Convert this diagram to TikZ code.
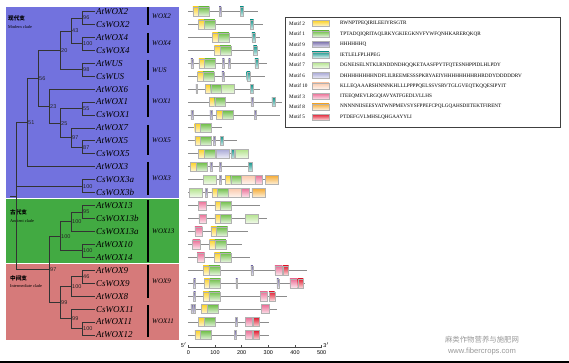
\documentclass[tikz,border=0pt]{standalone}
\usepackage{fontspec}
\setmainfont{Liberation Serif}
\setsansfont{Liberation Sans}
\newfontfamily\cjk{Noto Sans CJK SC}
\usepackage{tikz}
\usepackage{xcolor}

\definecolor{modbg}{RGB}{114,114,222}
\definecolor{ancbg}{RGB}{66,170,66}
\definecolor{intbg}{RGB}{214,122,122}
\definecolor{mc2}{RGB}{252,210,40}
\definecolor{mc1}{RGB}{110,190,70}
\definecolor{mc9}{RGB}{118,108,170}
\definecolor{mc4}{RGB}{20,150,140}
\definecolor{mc7}{RGB}{178,226,140}
\definecolor{mc6}{RGB}{170,170,215}
\definecolor{mc10}{RGB}{250,200,170}
\definecolor{mc3}{RGB}{235,110,150}
\definecolor{mc8}{RGB}{245,170,50}
\definecolor{mc5}{RGB}{225,30,50}

% one gene row: row number, length (aa)
\newcommand{\gene}[2]{\pgfmathsetmacro{\gy}{11.5+12.94*(#1-1)}\draw[geneline] (0,\gy) -- (#2,\gy);}
% one motif box: motif, start, end (aa)
\newcommand{\mot}[3]{\shade[mot=#1] (#2,\gy-4.5) rectangle (#3,\gy+4.5);}

\begin{document}
\begin{tikzpicture}[x=1pt,y=-1pt,
  branch/.style={draw=black!80,line width=0.8pt},
  tip/.style={anchor=west,inner sep=1pt,font=\itshape\fontsize{9}{10}\selectfont},
  boot/.style={anchor=west,inner sep=1pt,font=\sffamily\fontsize{5.5}{6}\selectfont,text=black!85},
  grp/.style={anchor=west,inner sep=0pt,font=\itshape\fontsize{7}{8}\selectfont},
  cn/.style={anchor=west,inner sep=0pt,font=\cjk\bfseries\fontsize{5.6}{6}\selectfont},
  en/.style={anchor=west,inner sep=0pt,font=\fontsize{4.3}{5}\selectfont},
  geneline/.style={draw=black!45,line width=1pt},
  mot/.style={top color=mc#1,bottom color=mc#1!18,draw=black!30,line width=0.3pt},
  legtxt/.style={anchor=west,inner sep=0pt,font=\fontsize{5.2}{6}\selectfont},
  tick/.style={anchor=north,inner sep=1pt,font=\sffamily\fontsize{5.5}{6}\selectfont}]
\useasboundingbox (0,0) rectangle (569,363);

% clade panels
\fill[modbg] (6,7) rectangle (179,198);
\fill[ancbg] (6,199) rectangle (179,262.5);
\fill[intbg] (6,263.5) rectangle (179,340);

\node[cn] (modcn) at (8,18) {现代支};
\node[en] (moden) at (8,27) {Modern clade};
\node[cn] (anccn) at (10,212) {古代支};
\node[en] (ancen) at (10,221) {Ancient clade};
\node[cn] (intcn) at (10,278) {中间支};
\node[en] (inten) at (10,286.5) {Intermediate clade};

% leaves
\foreach \i/\nm in {1/AtWOX2,2/CsWOX2,3/AtWOX4,4/CsWOX4,5/AtWUS,6/CsWUS,7/AtWOX6,
  8/AtWOX1,9/CsWOX1,10/AtWOX7,11/AtWOX5,12/CsWOX5,13/AtWOX3,14/CsWOX3a,15/CsWOX3b,
  16/AtWOX13,17/CsWOX13b,18/CsWOX13a,19/AtWOX10,20/AtWOX14,21/AtWOX9,22/CsWOX9,
  23/AtWOX8,24/CsWOX11,25/AtWOX11,26/AtWOX12}{
  \coordinate (l\i) at (95,{11.5+12.94*(\i-1)});
  \node[tip] (t\i) at (l\i) {\nm};
}

% inner nodes
\coordinate (wox2) at (82,17.97);
\coordinate (wox4) at (82,43.85);
\coordinate (wox24) at (71,30.91);
\coordinate (wus) at (82,69.73);
\coordinate (wusgrp) at (60,50.32);
\coordinate (wox1) at (82,108.55);
\coordinate (wox5) at (82,147.37);
\coordinate (wox57) at (71,137.67);
\coordinate (wox157) at (60,123.11);
\coordinate (wox6grp) at (49,106.12);
\coordinate (modern) at (38,78.22);
\coordinate (modern3) at (27,122.5);
\coordinate (wox3) at (82,186.19);
\coordinate (wox13b) at (82,212.07);
\coordinate (wox13) at (71,221.78);
\coordinate (wox10) at (82,250.89);
\coordinate (ancient) at (60,236.33);
\coordinate (wox9) at (82,276.77);
\coordinate (wox89) at (71,286.47);
\coordinate (wox12) at (82,328.53);
\coordinate (wox11) at (71,318.82);
\coordinate (inter) at (60,302.65);
\coordinate (ancint) at (49,269.49);
\coordinate (root) at (16,196);
\coordinate (rootstub) at (10,196);

\draw[branch] (wox2) |- (l1) (wox2) |- (l2);
\draw[branch] (wox4) |- (l3) (wox4) |- (l4);
\draw[branch] (wox24) |- (wox2) (wox24) |- (wox4);
\draw[branch] (wus) |- (l5) (wus) |- (l6);
\draw[branch] (wusgrp) |- (wox24) (wusgrp) |- (wus);
\draw[branch] (wox1) |- (l8) (wox1) |- (l9);
\draw[branch] (wox5) |- (l11) (wox5) |- (l12);
\draw[branch] (wox57) |- (l10) (wox57) |- (wox5);
\draw[branch] (wox157) |- (wox1) (wox157) |- (wox57);
\draw[branch] (wox6grp) |- (l7) (wox6grp) |- (wox157);
\draw[branch] (modern) |- (wusgrp) (modern) |- (wox6grp);
\draw[branch] (modern3) |- (modern) (modern3) |- (l13);
\draw[branch] (wox3) |- (l14) (wox3) |- (l15);
\draw[branch] (wox13b) |- (l16) (wox13b) |- (l17);
\draw[branch] (wox13) |- (wox13b) (wox13) |- (l18);
\draw[branch] (wox10) |- (l19) (wox10) |- (l20);
\draw[branch] (ancient) |- (wox13) (ancient) |- (wox10);
\draw[branch] (wox9) |- (l21) (wox9) |- (l22);
\draw[branch] (wox89) |- (wox9) (wox89) |- (l23);
\draw[branch] (wox12) |- (l25) (wox12) |- (l26);
\draw[branch] (wox11) |- (l24) (wox11) |- (wox12);
\draw[branch] (inter) |- (wox89) (inter) |- (wox11);
\draw[branch] (ancint) |- (ancient) (ancint) |- (inter);
\draw[branch] (root) |- (modern3) (root) |- (wox3) (root) |- (ancint);
\draw[branch] (rootstub) -- (root);

% bootstrap values
\node[boot] (b1) at (wox2) {96};
\node[boot] (b2) at (wox4) {100};
\node[boot] (b3) at (wox24) {43};
\node[boot] (b4) at (wus) {98};
\node[boot] (b5) at (wusgrp) {20};
\node[boot] (b6) at (wox1) {55};
\node[boot] (b7) at (wox5) {87};
\node[boot] (b8) at (wox57) {97};
\node[boot] (b9) at (wox157) {25};
\node[boot] (b10) at (wox6grp) {23};
\node[boot] (b11) at (modern) {56};
\node[boot] (b12) at (modern3) {51};
\node[boot] (b13) at (wox3) {100};
\node[boot] (b14) at (wox13b) {95};
\node[boot] (b15) at (wox13) {100};
\node[boot] (b16) at (wox10) {100};
\node[boot] (b17) at (ancient) {100};
\node[boot] (b18) at (wox9) {46};
\node[boot] (b19) at (wox89) {100};
\node[boot] (b20) at (wox12) {100};
\node[boot] (b21) at (wox11) {99};
\node[boot] (b22) at (inter) {99};
\node[boot] (b23) at (ancint) {97};

% subfamily bars
\foreach \a/\b/\nm in {7/25/WOX2,33/53/WOX4,60/80/WUS,85/117/WOX1,125/155/WOX5,
  162/195/WOX3,200/262/WOX13,265/298/WOX9,305/337/WOX11}{
  \draw[line width=1.2pt] (148,\a) -- (148,\b);
  \node[grp] (g\nm) at (152,{(\a+\b)/2}) {\nm};
}

% gene structures
\begin{scope}[shift={(188.3,0)},x=0.2667pt]
\gene{1}{263} \mot{2}{17}{38} \mot{1}{38}{79} \mot{9}{116}{123} \mot{4}{194}{207}
\gene{2}{281} \mot{2}{38}{59} \mot{1}{59}{100} \mot{4}{232}{245}
\gene{3}{269} \mot{2}{90}{111} \mot{1}{111}{152} \mot{4}{238}{251}
\gene{4}{269} \mot{2}{98}{119} \mot{1}{119}{160} \mot{4}{244}{257}
\gene{5}{294} \mot{9}{10}{17} \mot{2}{40}{61} \mot{1}{61}{102} \mot{9}{128}{135} \mot{9}{151}{158} \mot{4}{250}{263}
\gene{6}{288} \mot{2}{35}{56} \mot{1}{56}{97} \mot{9}{126}{133} \mot{4}{219}{232}
\gene{7}{269} \mot{9}{28}{35} \mot{2}{63}{84} \mot{1}{84}{125} \mot{7}{125}{173} \mot{4}{232}{245}
\gene{8}{350} \mot{2}{78}{99} \mot{1}{99}{140} \mot{9}{235}{242} \mot{4}{313}{326}
\gene{9}{344} \mot{9}{10}{17} \mot{9}{81}{88} \mot{2}{106}{127} \mot{1}{127}{168} \mot{9}{247}{254}
\gene{10}{125} \mot{2}{24}{45} \mot{1}{45}{86}
\gene{11}{181} \mot{2}{25}{46} \mot{1}{46}{87} \mot{9}{93}{100} \mot{4}{119}{132}
\gene{12}{225} \mot{2}{38}{59} \mot{1}{59}{100} \mot{6}{103}{155} \mot{4}{160}{173} \mot{7}{175}{223}
\gene{13}{238} \mot{2}{8}{29} \mot{1}{29}{70} \mot{9}{81}{88} \mot{9}{116}{123} \mot{4}{225}{238}
\gene{14}{338} \mot{7}{56}{104} \mot{9}{116}{123} \mot{2}{138}{159} \mot{1}{159}{200} \mot{10}{200}{250} \mot{3}{250}{278} \mot{8}{288}{338}
\gene{15}{288} \mot{7}{4}{52} \mot{9}{63}{70} \mot{2}{88}{109} \mot{1}{109}{150} \mot{10}{150}{200} \mot{3}{200}{228} \mot{8}{238}{288}
\gene{16}{269} \mot{3}{38}{66} \mot{2}{100}{121} \mot{1}{121}{162}
\gene{17}{294} \mot{3}{40}{68} \mot{2}{100}{121} \mot{1}{121}{162} \mot{7}{213}{261}
\gene{18}{225} \mot{3}{25}{53} \mot{2}{85}{106} \mot{1}{106}{147}
\gene{19}{200} \mot{3}{16}{44} \mot{2}{79}{100} \mot{1}{100}{141}
\gene{20}{231} \mot{3}{33}{61} \mot{2}{98}{119} \mot{1}{119}{160}
\gene{21}{444} \mot{2}{56}{77} \mot{1}{77}{118} \mot{9}{235}{242} \mot{3}{325}{353} \mot{5}{355}{376}
\gene{22}{438} \mot{9}{20}{27} \mot{2}{59}{80} \mot{1}{80}{121} \mot{9}{178}{185} \mot{9}{332}{339} \mot{3}{381}{409} \mot{5}{410}{431}
\gene{23}{369} \mot{9}{20}{27} \mot{2}{56}{77} \mot{1}{77}{118} \mot{3}{269}{297} \mot{5}{303}{324}
\gene{24}{331} \mot{9}{10}{17} \mot{9}{19}{26} \mot{2}{50}{71} \mot{1}{71}{112} \mot{3}{275}{303}
\gene{25}{304} \mot{2}{38}{59} \mot{1}{59}{100} \mot{9}{176}{183} \mot{3}{213}{241} \mot{5}{244}{265}
\gene{26}{304} \mot{2}{25}{46} \mot{1}{46}{87} \mot{9}{172}{179} \mot{3}{213}{241} \mot{5}{244}{265}

% scale
\draw[black!70,line width=0.6pt] (0,347) -- (500,347);
\foreach \v in {0,100,...,500}{
  \draw[black!70,line width=0.6pt] (\v,347) -- (\v,344.5);
  \node[tick] (tk\v) at (\v,349) {\v};
}
\node[tick,anchor=east] (five) at (-2,345) {5$'$};
\node[tick,anchor=west] (three) at (502,345) {3$'$};
\end{scope}

% motif legend
\draw[black!75,line width=0.9pt] (285,17) rectangle (560,127);
\foreach \k/\m/\seq in {1/2/RWNPTPEQIRILEEIYRSGTR,
  2/1/TPTADQIQRITAQLRKYGKIEGKNVFYWFQNHKARERQKQR,
  3/9/HHHHHHQ,
  4/4/IETLELFPLHPEG,
  5/7/DGNEISELNTKLRNDDNDHQQKETAASFPYTFQTESNHPPIDLHLPDY,
  6/6/DHHHHHHHHNDFLILREEMESSSPKRYAEIYHHHHHHHHRHRDDYDDDDDRV,
  7/10/KLLEQAAARSHNNNKHLLLPPPPQELSSVSRVTGLGVEQTKQQESIPYIT,
  8/3/ITEEQMEVLRGQIAVYATFGEDLVLLHS,
  9/8/NNNNNIISEESYATWNPMEVSYSFPPEFCPQLGQAHSDIITEKTFIRENT,
  10/5/PTDEFGVLMHSLQHGAAYYLI}{
  \pgfmathsetmacro{\ly}{23.5+10.4*(\k-1)}
  \node[legtxt] (lm\k) at (289,\ly) {Motif \m};
  \shade[mot=\m] (312,\ly-3) rectangle (329,\ly+3);
  \node[legtxt] (ls\k) at (340,\ly) {\seq};
}

% site mark
\node[font=\cjk\fontsize{7.4}{8}\selectfont,text=black!40] (wm1) at (482,340) {麻类作物营养与施肥网};
\node[font=\sffamily\fontsize{7.6}{8}\selectfont,text=black!40] (wm2) at (482,352) {www.fibercrops.com};
\draw[black,line width=1.5pt] (0,361.8) -- (569,361.8);
\end{tikzpicture}
\end{document}
